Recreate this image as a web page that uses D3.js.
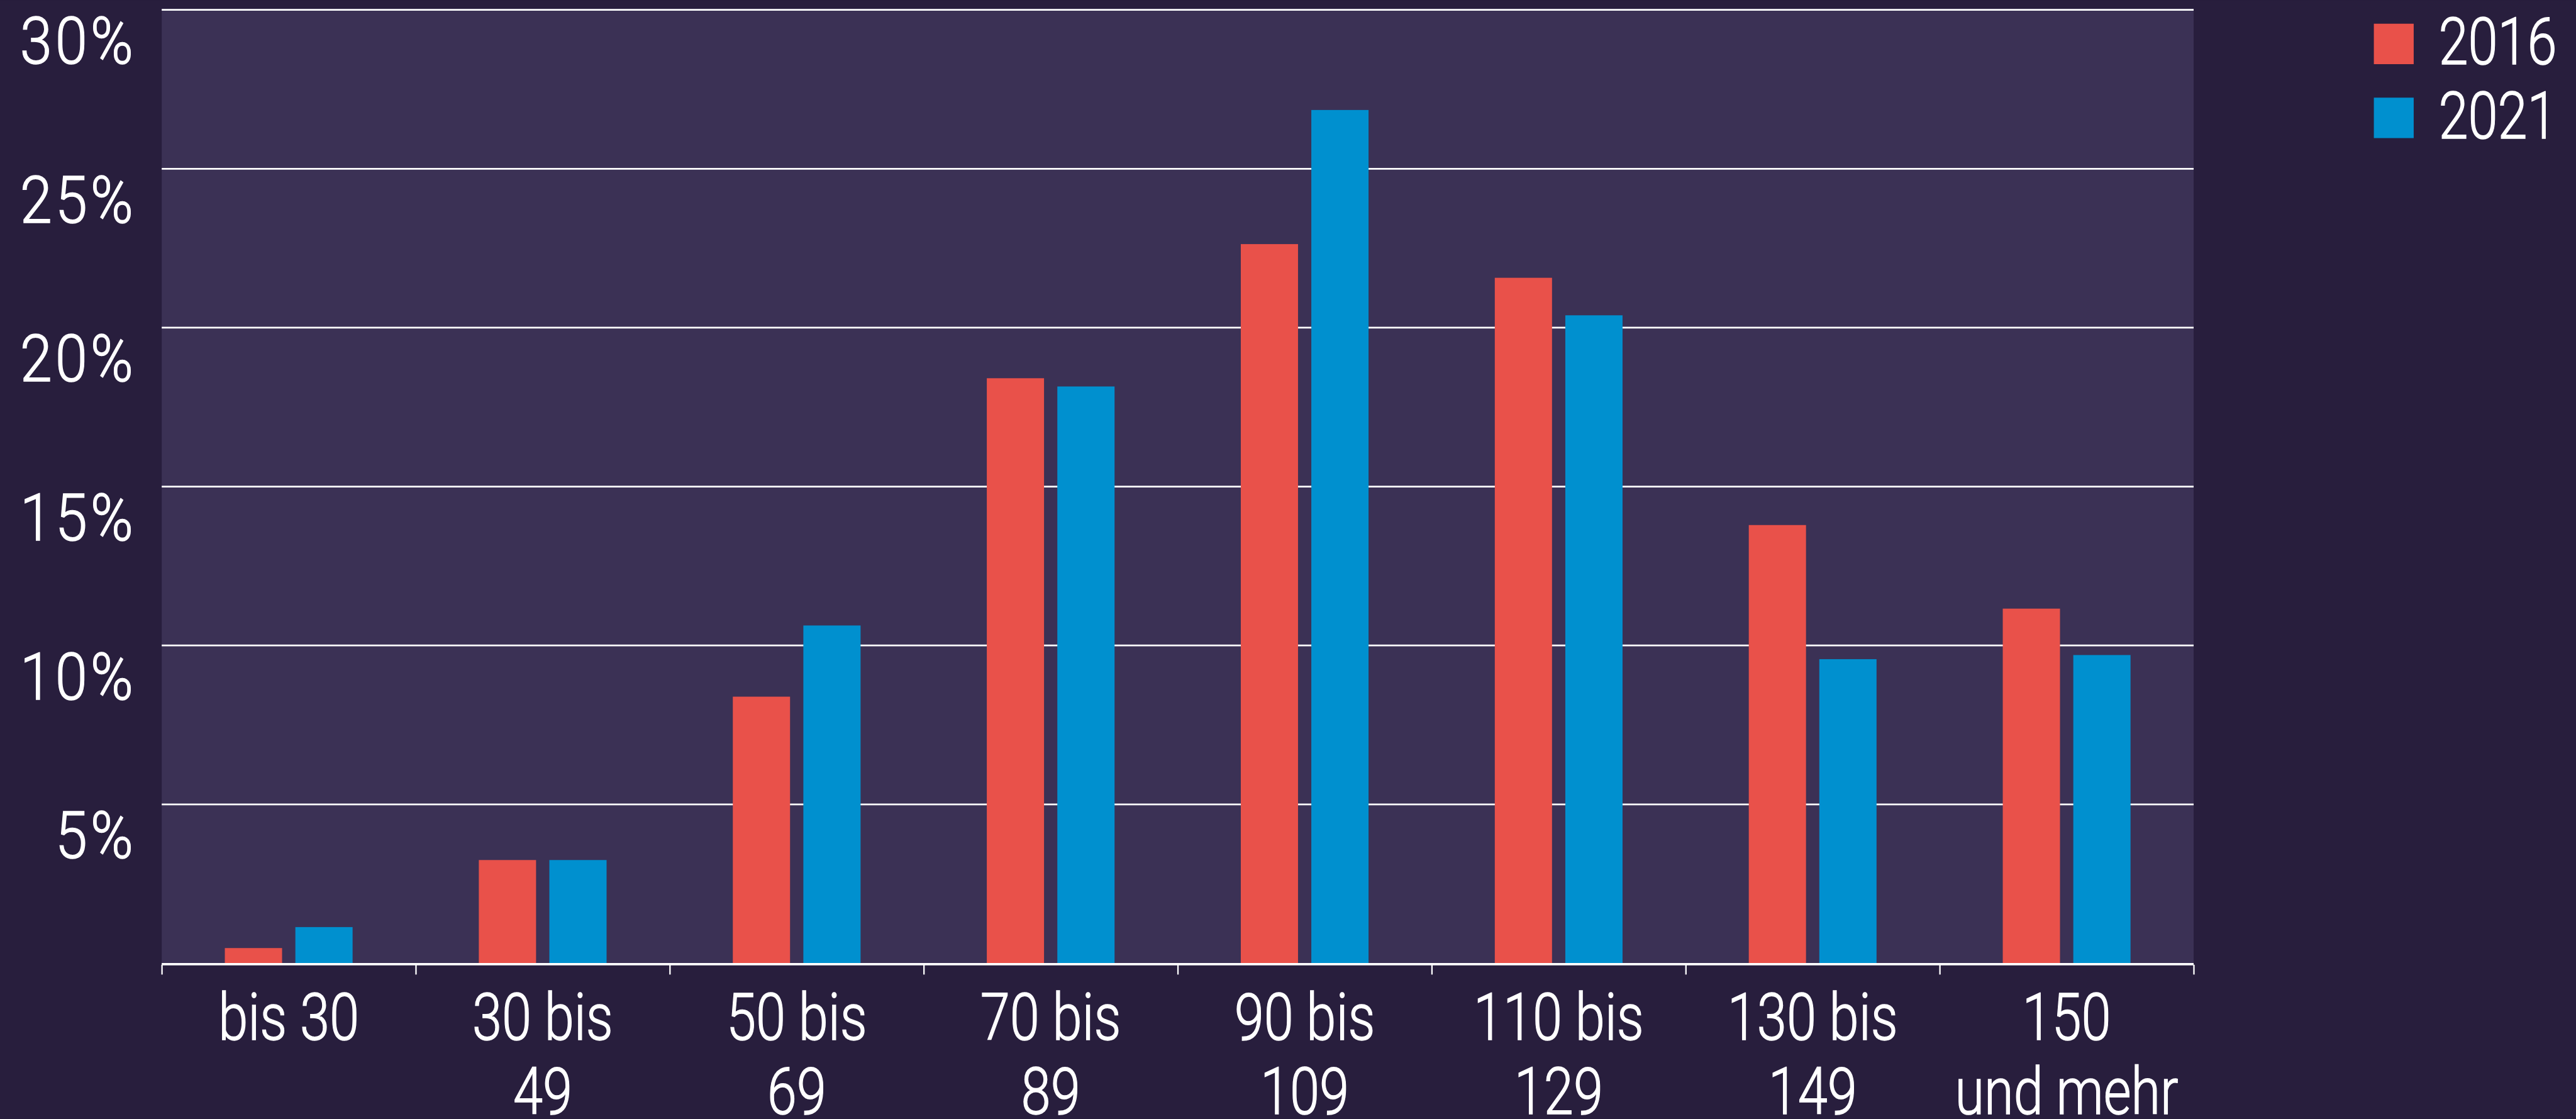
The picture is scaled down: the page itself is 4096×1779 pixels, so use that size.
<!DOCTYPE html>
<html lang="de">
<head>
<meta charset="utf-8">
<script src="https://cdn.jsdelivr.net/npm/d3@7"></script>
<style>
  html, body { margin: 0; padding: 0; background: #281e3d; overflow: hidden; }
  svg { display: block; }
  text { font-family: Roboto, "Liberation Sans", Arial, sans-serif; font-weight: 300; fill: #ffffff; stroke: #ffffff; stroke-width: 1.6px; }
</style>
</head>
<body>
<div id="chart"></div>
<script>
// Anteil nach Größenklasse, 2016 und 2021 (in Prozent)
const categories = ["bis 30", "30 bis\n49", "50 bis\n69", "70 bis\n89", "90 bis\n109", "110 bis\n129", "130 bis\n149", "150\nund mehr"];
const seriesNames = ["2016", "2021"];
const values2016 = [0.47, 3.24, 8.38, 18.4, 22.62, 21.56, 13.78, 11.15];
const values2021 = [1.13, 3.24, 10.62, 18.14, 26.84, 20.38, 9.56, 9.69];
const yTicks = [5, 10, 15, 20, 25, 30];
const seriesColors = ["#e9514a", "#0090cf"];

// Layout in a 4460 x 1937 drawing space, scaled down to the window
const W = 4460, H = 1937;
const plot = { left: 280, right: 3798, top: 16.5, bottom: 1667 };
const fontSize = 114;
const squeeze = 0.81;   // horizontal compression for the condensed lettering
const squeezeY = 0.88;  // percentage labels run a little wider
const fontStack = "Roboto, 'Liberation Sans', Arial, sans-serif";

const svg = d3.select("#chart").append("svg")
  .attr("width", 4096).attr("height", 1779)
  .attr("viewBox", `0 0 ${W} ${H}`);

svg.append("rect").attr("width", W).attr("height", H).attr("fill", "#281e3d");

const x = d3.scaleBand().domain(categories).range([plot.left, plot.right]).padding(0);
const xInner = d3.scaleBand().domain(seriesNames).range([0, x.bandwidth()])
  .paddingInner(0.1885).paddingOuter(0.895);
const y = d3.scaleLinear().domain([0, 30]).range([plot.bottom, plot.top]);

// plot background
svg.append("rect")
  .attr("x", plot.left).attr("y", y(30) - 1.5)
  .attr("width", plot.right - plot.left).attr("height", y(0) - y(30) + 1.5)
  .attr("fill", "#3b3155");

// horizontal gridlines
const grid = svg.append("g")
  .attr("transform", `translate(${plot.left},0)`)
  .call(d3.axisRight(y).tickValues(yTicks).tickSize(plot.right - plot.left).tickFormat(""));
grid.select(".domain").remove();
grid.selectAll("line").attr("stroke", "#ffffff").attr("stroke-width", 3);

// y tick labels, hanging below their gridline
const yAxis = svg.append("g")
  .attr("transform", "translate(236,0)")
  .call(d3.axisLeft(y).tickValues(yTicks).tickSize(0).tickPadding(0).tickFormat(d => d + "%"));
yAxis.select(".domain").remove();
yAxis.selectAll("text")
  .attr("x", 0).attr("y", 93).attr("dy", 0)
  .attr("transform", `scale(${squeezeY},1)`)
  .attr("text-anchor", "end")
  .style("font-size", fontSize + "px")
  .style("font-family", fontStack)
  .style("font-weight", 300)
  .style("letter-spacing", "6px")
  .attr("fill", "#ffffff");

// bars
const rows = categories.map((c, i) => ({ cat: c, vals: [values2016[i], values2021[i]] }));
const groups = svg.append("g").selectAll("g").data(rows).join("g")
  .attr("transform", d => `translate(${x(d.cat)},0)`);
groups.selectAll("rect")
  .data(d => d.vals.map((v, k) => ({ key: seriesNames[k], value: v, color: seriesColors[k] })))
  .join("rect")
  .attr("x", d => xInner(d.key))
  .attr("width", xInner.bandwidth())
  .attr("y", d => y(d.value))
  .attr("height", d => y(0) - y(d.value))
  .attr("fill", d => d.color);

// baseline
svg.append("line")
  .attr("x1", plot.left).attr("x2", plot.right)
  .attr("y1", plot.bottom + 2).attr("y2", plot.bottom + 2)
  .attr("stroke", "#ffffff").attr("stroke-width", 4);

// tick marks at the class boundaries
const boundary = d3.scaleLinear().domain([0, categories.length]).range([plot.left, plot.right]);
const tickAxis = svg.append("g")
  .attr("transform", `translate(0,${plot.bottom + 3})`)
  .call(d3.axisBottom(boundary).ticks(categories.length).tickSize(17).tickSizeOuter(0).tickFormat(""));
tickAxis.select(".domain").remove();
tickAxis.selectAll("line").attr("stroke", "#ffffff").attr("stroke-width", 2.5);

// category labels
const xAxis = svg.append("g")
  .attr("transform", `translate(0,${plot.bottom})`)
  .call(d3.axisBottom(x).tickSize(0).tickPadding(0));
xAxis.select(".domain").remove();
xAxis.selectAll(".tick text").each(function (d) {
  const t = d3.select(this);
  t.text(null).attr("y", 0).attr("dy", 0)
    .attr("transform", `scale(${squeeze},1)`)
    .attr("text-anchor", "middle")
    .style("font-size", fontSize + "px")
    .style("font-family", fontStack)
    .style("font-weight", 300)
    .attr("fill", "#ffffff");
  d.split("\n").forEach((line, i) => {
    t.append("tspan").attr("x", 0).attr("y", 133 + i * 128).text(line);
  });
});

// legend
const legend = svg.append("g").selectAll("g").data(seriesNames).join("g")
  .attr("transform", (d, i) => `translate(4110,${41 + i * 128})`);
legend.append("rect")
  .attr("width", 69).attr("height", 70)
  .attr("fill", (d, i) => seriesColors[i]);
legend.append("text")
  .attr("transform", `translate(112,70) scale(${squeeze},1)`)
  .style("font-size", fontSize + "px")
  .text(d => d);
</script>
</body>
</html>
